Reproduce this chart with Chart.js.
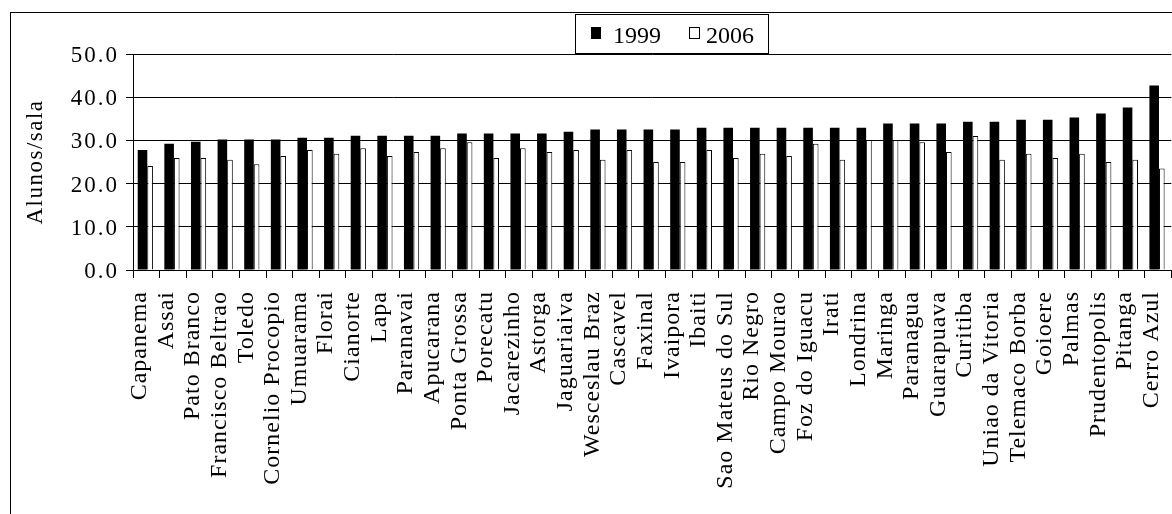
<!DOCTYPE html>
<html>
<head>
<meta charset="utf-8">
<title>Alunos por sala</title>
<script src="https://cdn.jsdelivr.net/npm/chart.js@4.4.1/dist/chart.umd.min.js"></script>
<style>
  html, body { margin: 0; padding: 0; background: #fff; overflow: hidden; width: 1172px; height: 514px; }
  #wrap { position: absolute; left: 0; top: 0; width: 1200px; height: 530px; }
</style>
</head>
<body>
<div id="wrap"><canvas id="c" width="1200" height="530"></canvas></div>
<script>
// Municípios, ordered by the 1999 average
const cities = [
  'Capanema', 'Assai', 'Pato Branco', 'Francisco Beltrao', 'Toledo', 'Cornelio Procopio',
  'Umuarama', 'Florai', 'Cianorte', 'Lapa', 'Paranavai', 'Apucarana', 'Ponta Grossa',
  'Porecatu', 'Jacarezinho', 'Astorga', 'Jaguariaiva', 'Wesceslau Braz', 'Cascavel',
  'Faxinal', 'Ivaipora', 'Ibaiti', 'Sao Mateus do Sul', 'Rio Negro', 'Campo Mourao',
  'Foz do Iguacu', 'Irati', 'Londrina', 'Maringa', 'Paranagua', 'Guarapuava', 'Curitiba',
  'Uniao da Vitoria', 'Telemaco Borba', 'Goioere', 'Palmas', 'Prudentopolis', 'Pitanga',
  'Cerro Azul'
];

const seriesNames = ['1999', '2006'];

const values1999 = [
  27.8, 29.2, 29.7, 30.2, 30.2, 30.2, 30.6, 30.6, 31.1, 31.1, 31.1, 31.1, 31.6,
  31.6, 31.6, 31.6, 32.0, 32.5, 32.5, 32.5, 32.5, 32.9, 32.9, 32.9, 32.9,
  32.9, 32.9, 32.9, 33.9, 33.9, 33.9, 34.3, 34.3, 34.8, 34.8, 35.3, 36.2, 37.6,
  42.7
];

const values2006 = [
  24.1, 25.9, 25.9, 25.5, 24.5, 26.4, 27.8, 26.9, 28.2, 26.4, 27.3, 28.2, 29.6,
  25.9, 28.2, 27.3, 27.8, 25.5, 27.8, 25.0, 25.0, 27.8, 25.9, 26.9, 26.4,
  29.2, 25.5, 30.1, 30.1, 29.6, 27.3, 31.0, 25.5, 26.9, 25.9, 26.9, 25.0, 25.5,
  23.5
];

const yTicks = [0, 10, 20, 30, 40, 50];
const yTitle = 'Alunos/sala';

const SERIF = '"Liberation Serif", "Times New Roman", Times, serif';

// Wide-set serif lettering: base spacing for category labels,
// slightly wider spacing for the value axis labels and its title
const spacedText = {
  id: 'spacedText',
  beforeLayout(chart) { chart.ctx.letterSpacing = '1px'; },
  afterLayout(chart) {
    const ys = chart.scales.y;
    if (ys && !ys.__spaced) {
      const labels = ys.drawLabels, title = ys.drawTitle;
      ys.drawLabels = function (area) {
        this.ctx.save(); this.ctx.letterSpacing = '2px'; labels.call(this, area); this.ctx.restore();
      };
      ys.drawTitle = function () {
        this.ctx.save(); this.ctx.letterSpacing = '1.5px'; title.call(this); this.ctx.restore();
      };
      ys.__spaced = true;
    }
  },
  beforeDraw(chart) { chart.ctx.letterSpacing = '1px'; }
};

// Outer frame around the whole figure
const frame = {
  id: 'frame',
  beforeDraw(chart) {
    const ctx = chart.ctx;
    ctx.save();
    ctx.strokeStyle = '#000';
    ctx.lineWidth = 1;
    ctx.strokeRect(10.5, 12.5, 1300, 600);
    ctx.restore();
  }
};

// Boxed legend above the plot
const boxedLegend = {
  id: 'boxedLegend',
  afterDraw(chart) {
    const ctx = chart.ctx;
    const slots = [{ sx: 591, tx: 613 }, { sx: 689.5, tx: 706 }];
    ctx.save();
    ctx.letterSpacing = '0px';
    ctx.lineWidth = 1;
    ctx.strokeStyle = '#000';
    ctx.strokeRect(575.5, 14.5, 193, 39);
    ctx.font = '24px ' + SERIF;
    ctx.textBaseline = 'alphabetic';
    ctx.textAlign = 'left';
    chart.data.datasets.forEach((ds, i) => {
      const s = slots[i];
      ctx.fillStyle = ds.backgroundColor;
      ctx.fillRect(s.sx, 27, 10, 12);
      if (ds.borderWidth) {
        ctx.strokeStyle = ds.borderColor;
        ctx.strokeRect(s.sx, 27.5, 10, 11);
      }
      ctx.fillStyle = '#000';
      ctx.fillText(ds.label, s.tx, 43);
    });
    ctx.restore();
  }
};

new Chart(document.getElementById('c'), {
  type: 'bar',
  data: {
    labels: cities,
    datasets: [
      {
        label: seriesNames[0],
        data: values1999,
        backgroundColor: '#000',
        borderWidth: 0,
        categoryPercentage: 0.5714,
        barPercentage: 1.26
      },
      {
        label: seriesNames[1],
        data: values2006,
        backgroundColor: '#fff',
        borderColor: '#000',
        borderWidth: 1,
        categoryPercentage: 0.5714,
        barPercentage: 0.74
      }
    ]
  },
  options: {
    responsive: false,
    animation: false,
    events: [],
    layout: { padding: { top: 54, right: 16, bottom: 0, left: 0 } },
    plugins: {
      legend: { display: false },
      title: { display: false },
      tooltip: { enabled: false }
    },
    scales: {
      x: {
        offset: true,
        grid: {
          display: true,
          offset: true,
          drawOnChartArea: false,
          drawTicks: true,
          tickLength: 8,
          color: '#000',
          lineWidth: 1
        },
        border: { display: true, color: '#000', width: 1 },
        ticks: {
          autoSkip: false,
          minRotation: 90,
          maxRotation: 90,
          padding: 13,
          labelOffset: -6.5,
          color: '#000',
          font: { family: SERIF, size: 24 }
        },
        afterFit(scale) { scale.height = 260; }
      },
      y: {
        min: 0,
        max: 50,
        afterBuildTicks(scale) { scale.ticks = yTicks.map(v => ({ value: v })); },
        grid: { color: '#000', lineWidth: 1, drawTicks: true, tickLength: 7 },
        border: { display: true, color: '#000', width: 1 },
        ticks: {
          padding: 7,
          labelOffset: 2,
          color: '#000',
          font: { family: SERIF, size: 23 },
          callback: v => Number(v).toFixed(1)
        },
        title: {
          display: true,
          text: yTitle,
          color: '#000',
          font: { family: SERIF, size: 23 },
          padding: { top: 22, bottom: 0 }
        },
        afterFit(scale) { scale.width = 133; }
      }
    }
  },
  plugins: [spacedText, frame, boxedLegend]
});
</script>
</body>
</html>
